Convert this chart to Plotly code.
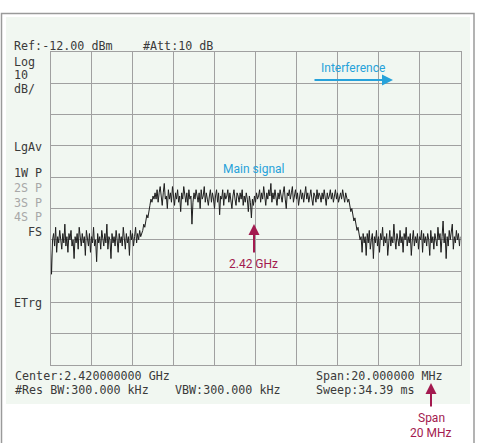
import numpy as np
import plotly.graph_objects as go

# ---- data ----
start_ghz = 2.410
stop_ghz = 2.430
level_dbm = [
    # left noise floor
    -75, -83, -72, -70, -74, -68, -76, -71, -73, -69,
    -72, -75, -70, -73, -67, -74, -71, -76, -70, -72,
    -69, -74, -72, -78, -71, -73, -70, -75, -68, -72,
    -74, -70, -73, -71, -77, -69, -72, -74, -70, -76,
    -71, -73, -68, -74, -72, -79, -70, -73, -71, -75,
    -69, -72, -74, -70, -73, -67, -75, -71, -72, -78,
    -70, -73, -71, -74, -69, -72, -76, -70, -73, -71,
    -74, -68, -72, -75, -70, -73, -71, -77, -69, -72,
    -70, -74, -71, -68, -73, -70, -72, -69, -71, -70,
    # rising edge
    -69, -67, -68, -66, -64, -65, -62, -61, -59, -60, -58, -59, -57,
    # main signal
    -59, -56, -60, -57, -55, -58, -61, -57, -54, -59,
    -58, -62, -56, -59, -57, -60, -55, -58, -61, -57,
    -59, -56, -60, -58, -63, -57, -59, -55, -58, -60,
    -57, -61, -56, -59, -58, -67, -60, -57, -59, -56,
    -58, -60, -57, -62, -56, -59, -58, -55, -60, -57,
    -59, -61, -58, -56, -60, -57, -59, -62, -58, -56,
    -60, -57, -64, -58, -59, -56, -61, -57, -59, -58,
    -56, -60, -57, -59, -62, -58, -56, -59, -61, -57,
    -58, -60, -57, -59, -56, -61, -58, -60, -57, -59,
    -63, -58, -60, -65, -59, -61, -58, -60, -57, -59,
    -58, -56, -60, -57, -59, -55, -58, -61, -57, -59,
    -56, -58, -54, -60, -57, -59, -56, -58, -61, -57,
    -59, -56, -58, -60, -57, -55, -59, -62, -57, -58,
    -56, -59, -57, -55, -60, -58, -56, -59, -57, -61,
    -58, -56, -59, -57, -60, -58, -55, -59, -57, -60,
    -58, -56, -59, -61, -57, -58, -60, -56, -59, -57,
    -58, -60, -57, -59, -56, -58, -61, -57, -59, -58,
    -56, -59, -57, -60, -58, -56, -59, -57, -60, -58,
    -57, -59, -56, -58, -60, -57, -59,
    # falling edge
    -60, -59, -61, -63, -62, -64, -66, -65, -67, -69, -68, -70, -72, -71, -76, -70, -73,
    # right noise floor
    -71, -77, -70, -73, -69, -75, -72, -70, -78, -71,
    -73, -69, -74, -71, -76, -70, -72, -68, -74, -71,
    -73, -70, -77, -72, -69, -74, -71, -73, -67, -72,
    -75, -70, -72, -74, -69, -73, -71, -76, -70, -72,
    -68, -74, -71, -73, -70, -77, -72, -69, -74, -71,
    -73, -70, -75, -71, -72, -69, -76, -70, -73, -71,
    -74, -70, -72, -77, -69, -73, -71, -75, -70, -72,
    -74, -68, -72, -70, -76, -71, -66, -73, -70, -78,
    -71, -74, -69, -72, -70, -67, -75, -71, -73, -69,
    -72, -70, -74, -71,
]
freq_ghz = np.linspace(start_ghz, stop_ghz, len(level_dbm))
ref_level = -12
bottom_level = -112

header_left = "Ref:-12.00 dBm"
header_att = "#Att:10 dB"
side_labels = [("Log", 62, "#3a3a3a"), ("10", 75, "#3a3a3a"), ("dB/", 89, "#3a3a3a"),
               ("LgAv", 147, "#3a3a3a"), ("1W P", 173, "#3a3a3a"),
               ("2S P", 188, "#a8a8a8"), ("3S P", 203, "#a8a8a8"), ("4S P", 217, "#a8a8a8"),
               ("ETrg", 303, "#3a3a3a")]
footer = [("Center:2.420000000 GHz", 13, 376), ("#Res BW:300.000 kHz", 13, 390),
          ("VBW:300.000 kHz", 173, 390), ("Span:20.000000 MHz", 314, 376),
          ("Sweep:34.39 ms", 314, 390)]

W, H = 477, 443
def px(x): return x / W
def py(y): return 1 - y / H

BLUE = "#27a2da"
RED = "#a31a4f"
GRID = "#a0a0a0"
MONO = "DejaVu Sans Mono"
SANS = "Roboto"

fig = go.Figure()
fig.add_trace(go.Scatter(x=freq_ghz, y=level_dbm, mode="lines",
                         line=dict(color="#1e1e1e", width=1), hoverinfo="skip"))

shapes = [
    dict(type="rect", xref="paper", yref="paper", x0=px(1.5), x1=px(474), y0=py(13.5), y1=py(450),
         line=dict(color="#9a9a9a", width=1.5), fillcolor="white", layer="below"),
    dict(type="rect", xref="paper", yref="paper", x0=px(6), x1=px(470), y0=py(17), y1=py(404),
         line=dict(width=0), fillcolor="#f1f7f1", layer="below"),
]

ann = []
def txt(s, x, y, color="#3a3a3a", size=11.7, family=MONO, xanchor="left"):
    ann.append(dict(text=s, x=px(x), y=py(y), xref="paper", yref="paper", showarrow=False,
                    xanchor=xanchor, yanchor="middle", font=dict(family=family, size=size, color=color)))

txt(header_left, 12, 46)
txt(header_att, 141, 46)
for s, y, c in side_labels:
    txt(s, 12, y, color=c)
txt("FS", 44, 232, xanchor="right")
for s, x, y in footer:
    txt(s, x, y)

txt("Interference", 353, 68, color=BLUE, size=12, family=SANS, xanchor="center")
txt("Main signal", 254, 169, color=BLUE, size=12, family=SANS, xanchor="center")
txt("2.42 GHz", 254, 264, color=RED, size=12, family=SANS, xanchor="center")
txt("Span", 431, 418, color=RED, size=12, family=SANS, xanchor="center")
txt("20 MHz", 431, 433, color=RED, size=12, family=SANS, xanchor="center")

def arrow(xt, yt, dx, dy, color):
    ann.append(dict(text="", x=px(xt), y=py(yt), xref="paper", yref="paper", showarrow=True,
                    ax=dx, ay=dy, axref="pixel", ayref="pixel", arrowhead=2, arrowsize=1.1,
                    arrowwidth=2, arrowcolor=color, standoff=0))

arrow(393, 80, -80, 0, BLUE)
arrow(254, 224, 0, 30, RED)
arrow(431, 383, 0, 25, RED)

fig.update_layout(
    width=W, height=H, margin=dict(l=0, r=0, t=0, b=0),
    paper_bgcolor="white", plot_bgcolor="rgba(0,0,0,0)",
    showlegend=False, shapes=shapes, annotations=ann,
    xaxis=dict(domain=[px(50.5), px(460.5)], range=[start_ghz, stop_ghz], dtick=0.002,
               tick0=start_ghz, showgrid=True, gridcolor=GRID, gridwidth=1,
               showline=True, linecolor=GRID, linewidth=1, mirror=True,
               showticklabels=False, ticks="", zeroline=False, fixedrange=True),
    yaxis=dict(domain=[py(365), py(52)], range=[bottom_level, ref_level], dtick=10,
               tick0=ref_level, showgrid=True, gridcolor=GRID, gridwidth=1,
               showline=True, linecolor=GRID, linewidth=1, mirror=True,
               showticklabels=False, ticks="", zeroline=False, fixedrange=True),
)
fig.write_html("out.html", config={"displayModeBar": False})
